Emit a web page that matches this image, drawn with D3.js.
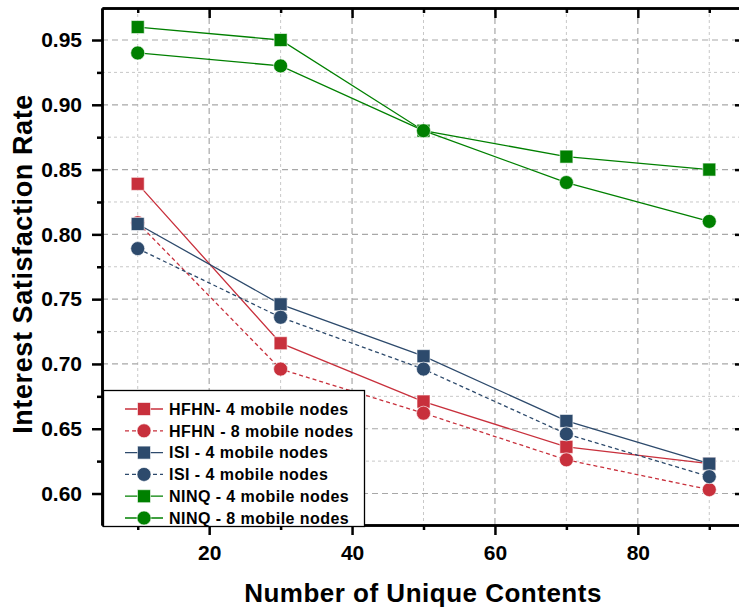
<!DOCTYPE html>
<html><head><meta charset="utf-8">
<script src="https://cdn.jsdelivr.net/npm/d3@7"></script>
<style>body{margin:0;background:#fff}svg{display:block}text{font-family:"Liberation Sans",Arial,sans-serif;font-weight:bold}</style>
</head><body><svg id="c" width="739" height="612"></svg>
<script>
const xValues = [10, 30, 50, 70, 90];
const seriesNames = ["HFHN- 4 mobile nodes","HFHN - 8 mobile nodes","ISI - 4 mobile nodes","ISI - 4 mobile nodes","NINQ - 4 mobile nodes","NINQ - 8 mobile nodes"];
const hfhn4 = [0.839, 0.716, 0.671, 0.636, 0.623];
const hfhn8 = [0.809, 0.696, 0.662, 0.626, 0.603];
const isi4  = [0.808, 0.746, 0.706, 0.656, 0.623];
const isi8  = [0.789, 0.736, 0.696, 0.646, 0.613];
const ninq4 = [0.960, 0.950, 0.880, 0.860, 0.850];
const ninq8 = [0.940, 0.930, 0.880, 0.840, 0.810];
const xTicks = [20, 40, 60, 80];
const yTicks = [0.60, 0.65, 0.70, 0.75, 0.80, 0.85, 0.90, 0.95];

const colors = ["#c8303c","#c8303c","#2d4a6c","#2d4a6c","#008000","#008000"];
const dashed = [false,true,false,true,false,false];
const shapes = ["square","circle","square","circle","square","circle"];
const data = [hfhn4,hfhn8,isi4,isi8,ninq4,ninq8];

const svg = d3.select("#c");
const L=102, R=745, T=8, B=525;
const x = d3.scaleLinear().domain([5,95]).range([L,R]);
const y = d3.scaleLinear().domain([0.5757,0.9747]).range([B,T]);

// grid
const minorX = [10,30,50,70,90], minorY = d3.range(0.625,0.97,0.05);
const g = svg.append("g");
minorX.forEach(v=>g.append("line").attr("x1",x(v)).attr("x2",x(v)).attr("y1",T).attr("y2",B).attr("stroke","#c8c8c8").attr("stroke-width",1).attr("stroke-dasharray","3,3"));
minorY.forEach(v=>g.append("line").attr("x1",L).attr("x2",R).attr("y1",y(v)).attr("y2",y(v)).attr("stroke","#c8c8c8").attr("stroke-width",1).attr("stroke-dasharray","3,3"));
xTicks.forEach(v=>g.append("line").attr("x1",x(v)).attr("x2",x(v)).attr("y1",T).attr("y2",B).attr("stroke","#a8a8a8").attr("stroke-width",1.2).attr("stroke-dasharray","6,4"));
yTicks.forEach(v=>g.append("line").attr("x1",L).attr("x2",R).attr("y1",y(v)).attr("y2",y(v)).attr("stroke","#a8a8a8").attr("stroke-width",1.2).attr("stroke-dasharray","6,4"));

// axes
const ax = svg.append("g").attr("transform",`translate(0,${B})`).call(d3.axisBottom(x).tickValues(xTicks).tickSize(10).tickSizeOuter(0));
svg.append("g").attr("transform",`translate(0,${B})`).call(d3.axisBottom(x).tickValues(minorX).tickSize(5).tickFormat("").tickSizeOuter(0));
const ay = svg.append("g").attr("transform",`translate(${L},0)`).call(d3.axisLeft(y).tickValues(yTicks).tickSize(10).tickFormat(d3.format(".2f")).tickSizeOuter(0));
svg.append("g").attr("transform",`translate(${L},0)`).call(d3.axisLeft(y).tickValues(minorY).tickSize(5).tickFormat("").tickSizeOuter(0));
svg.append("g").attr("transform",`translate(0,${T})`).call(d3.axisBottom(x).tickValues(xTicks).tickSize(10).tickFormat("").tickSizeOuter(0));
svg.append("g").attr("transform",`translate(0,${T})`).call(d3.axisBottom(x).tickValues(minorX).tickSize(5).tickFormat("").tickSizeOuter(0));
svg.append("g").attr("transform",`translate(${R},0)`).call(d3.axisLeft(y).tickValues(yTicks).tickSize(10).tickFormat("").tickSizeOuter(0));
svg.selectAll(".domain").attr("stroke","#000").attr("stroke-width",2.5);
svg.selectAll(".tick line").attr("stroke","#000").attr("stroke-width",2.5);
ax.selectAll("text").attr("font-size",21).attr("y",20).attr("dy","0.71em").attr("fill","#000");
ay.selectAll("text").attr("font-size",21).attr("x",-20).attr("fill","#000");
svg.selectAll(".tick text").style("font-weight","bold").attr("font-family",null);

// series
const line = d3.line().x((d,i)=>x(xValues[i])).y(d=>y(d));
function marker(sel, shape, color, cx, cy){
  if(shape==="square") sel.append("rect").attr("x",cx-6.5).attr("y",cy-6.5).attr("width",13).attr("height",13).attr("fill",color).attr("stroke","#fff").attr("stroke-opacity",0.6).attr("stroke-width",1);
  else sel.append("circle").attr("cx",cx).attr("cy",cy).attr("r",7).attr("fill",color).attr("stroke","#fff").attr("stroke-opacity",0.6).attr("stroke-width",1);
}
data.forEach((s,k)=>{
  const gg = svg.append("g");
  gg.append("path").attr("d",line(s)).attr("fill","none").attr("stroke",colors[k]).attr("stroke-width",1.3).attr("stroke-dasharray",dashed[k]?"4,3":null);
  s.forEach((v,i)=>marker(gg,shapes[k],colors[k],x(xValues[i]),y(v)));
});

// legend
const lg = svg.append("g");
lg.append("rect").attr("x",103.5).attr("y",390.5).attr("width",261).attr("height",136).attr("fill","#fff").attr("stroke","#000").attr("stroke-width",1.3);
seriesNames.forEach((n,k)=>{
  const yy = 409 + k*21.8;
  lg.append("line").attr("x1",125).attr("x2",163).attr("y1",yy).attr("y2",yy).attr("stroke",colors[k]).attr("stroke-width",1.3).attr("stroke-dasharray",dashed[k]?"4,3":null);
  marker(lg,shapes[k],colors[k],144,yy);
  lg.append("text").attr("x",169).attr("y",yy).attr("dy","0.36em").attr("font-size",16).attr("letter-spacing",0.45).attr("fill","#000").text(n);
});

// titles
svg.append("text").attr("x",423).attr("y",602).attr("text-anchor","middle").attr("font-size",26).attr("letter-spacing",0.5).attr("fill","#000").text("Number of Unique Contents");
svg.append("text").attr("transform","translate(32,264) rotate(-90)").attr("text-anchor","middle").attr("font-size",27).attr("letter-spacing",0.6).attr("fill","#000").text("Interest Satisfaction Rate");
</script></body></html>
